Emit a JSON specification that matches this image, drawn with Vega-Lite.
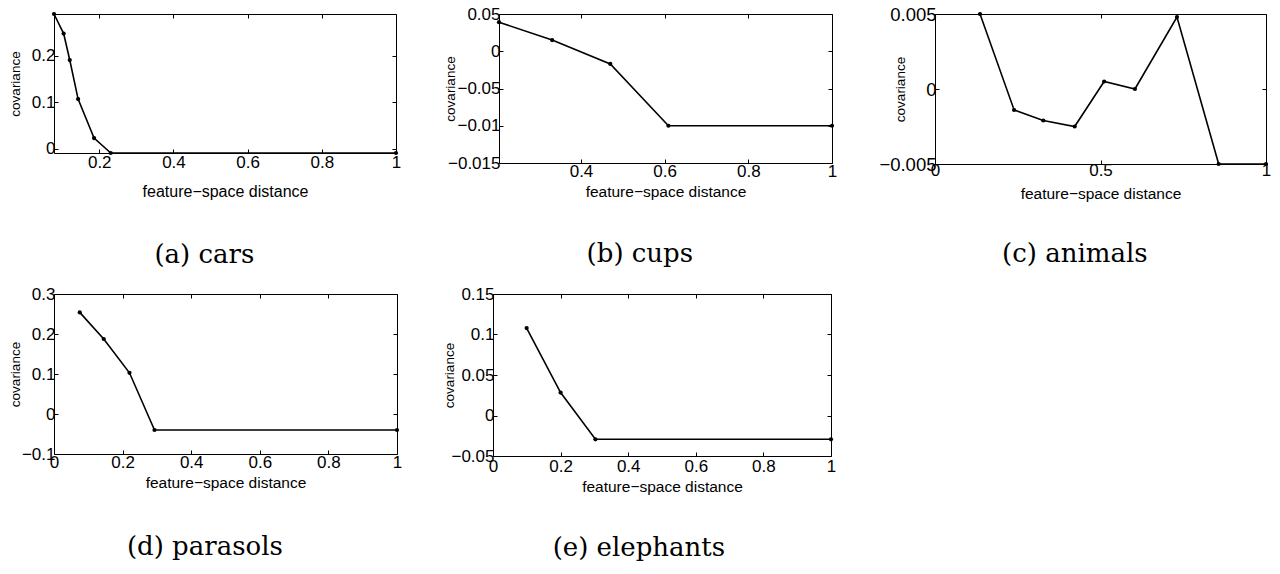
{
  "$schema": "https://vega.github.io/schema/vega-lite/v6.json",
  "background": "white",
  "padding": {"left": 7, "top": 4, "right": 0, "bottom": 0},
  "spacing": 15,
  "vconcat": [
    {
      "spacing": 40,
      "hconcat": [
        {
          "width": 342, "height": 139,
          "data": {"values": [
            {"distance": 0.078, "covariance": 0.29},
            {"distance": 0.104, "covariance": 0.248},
            {"distance": 0.1205, "covariance": 0.191},
            {"distance": 0.143, "covariance": 0.107},
            {"distance": 0.186, "covariance": 0.023},
            {"distance": 0.231, "covariance": -0.009},
            {"distance": 1, "covariance": -0.009}
          ]},
          "title": {"text": "(a) cars", "offset": 43},
          "layer": [
            {"mark": {"type": "line", "color": "black", "strokeWidth": 1.6, "clip": false},
             "encoding": {
               "x": {"field": "distance", "type": "quantitative", "scale": {"domain": [0.078, 1], "nice": false, "zero": false},
                     "axis": {"values": [0.2, 0.4, 0.6, 0.8, 1], "labelPadding": 13, "titleY": 38, "titleFontSize": 16, "title": "feature−space distance"}},
               "y": {"field": "covariance", "type": "quantitative", "scale": {"domain": [-0.009, 0.29], "nice": false, "zero": false},
                     "axis": {"values": [0, 0.1, 0.2], "titleX": -39, "title": "covariance"}}
             }},
            {"mark": {"type": "point", "filled": true, "color": "black", "size": 18, "opacity": 1, "clip": false},
             "encoding": {
               "x": {"field": "distance", "type": "quantitative", "axis": {"orient": "top", "values": [0.2, 0.4, 0.6, 0.8, 1], "labels": false, "title": null}},
               "y": {"field": "covariance", "type": "quantitative", "axis": {"orient": "right", "values": [0, 0.1, 0.2], "labels": false, "title": null}}
             }}
          ],
          "resolve": {"axis": {"x": "independent", "y": "independent"}}
        },
        {
          "width": 333, "height": 149,
          "data": {"values": [
            {"distance": 0.204, "covariance": 0.0039},
            {"distance": 0.331, "covariance": 0.0015},
            {"distance": 0.47, "covariance": -0.0017},
            {"distance": 0.609, "covariance": -0.01},
            {"distance": 1, "covariance": -0.01}
          ]},
          "title": {"text": "(b) cups", "offset": 41},
          "layer": [
            {"mark": {"type": "line", "color": "black", "strokeWidth": 1.6, "clip": false},
             "encoding": {
               "x": {"field": "distance", "type": "quantitative", "scale": {"domain": [0.204, 1], "nice": false, "zero": false},
                     "axis": {"values": [0.4, 0.6, 0.8, 1], "labelPadding": 12, "titleY": 28, "title": "feature−space distance"}},
               "y": {"field": "covariance", "type": "quantitative", "scale": {"domain": [-0.015, 0.005], "nice": false, "zero": false},
                     "axis": {"values": [-0.015, -0.01, -0.005, 0, 0.005], "labelExpr": "datum.value == 0.005 ? '0.05' : datum.value == -0.005 ? '−0.05' : datum.label", "titleX": -49, "title": "covariance"}}
             }},
            {"mark": {"type": "point", "filled": true, "color": "black", "size": 18, "opacity": 1, "clip": false},
             "encoding": {
               "x": {"field": "distance", "type": "quantitative", "axis": {"orient": "top", "values": [0.4, 0.6, 0.8, 1], "labels": false, "title": null}},
               "y": {"field": "covariance", "type": "quantitative", "axis": {"orient": "right", "values": [-0.015, -0.01, -0.005, 0, 0.005], "labels": false, "title": null}}
             }}
          ],
          "resolve": {"axis": {"x": "independent", "y": "independent"}}
        },
        {
          "width": 331, "height": 150,
          "data": {"values": [
            {"distance": 0.136, "covariance": 0.005},
            {"distance": 0.239, "covariance": -0.0014},
            {"distance": 0.327, "covariance": -0.0021},
            {"distance": 0.422, "covariance": -0.0025},
            {"distance": 0.511, "covariance": 0.0005},
            {"distance": 0.604, "covariance": 0},
            {"distance": 0.731, "covariance": 0.0048},
            {"distance": 0.857, "covariance": -0.005},
            {"distance": 1, "covariance": -0.005}
          ]},
          "title": {"text": "(c) animals", "offset": 39},
          "layer": [
            {"mark": {"type": "line", "color": "black", "strokeWidth": 1.6, "clip": false},
             "encoding": {
               "x": {"field": "distance", "type": "quantitative", "scale": {"domain": [0, 1], "nice": false, "zero": false},
                     "axis": {"values": [0, 0.5, 1], "labelPadding": 10, "titleY": 29, "title": "feature−space distance"}},
               "y": {"field": "covariance", "type": "quantitative", "scale": {"domain": [-0.005, 0.005], "nice": false, "zero": false},
                     "axis": {"values": [-0.005, 0, 0.005], "labelFontSize": 18.5, "labelPadding": 3, "titleX": -35, "title": "covariance"}}
             }},
            {"mark": {"type": "point", "filled": true, "color": "black", "size": 18, "opacity": 1, "clip": false},
             "encoding": {
               "x": {"field": "distance", "type": "quantitative", "axis": {"orient": "top", "values": [0, 0.5, 1], "labels": false, "title": null}},
               "y": {"field": "covariance", "type": "quantitative", "axis": {"orient": "right", "values": [-0.005, 0, 0.005], "labels": false, "title": null}}
             }}
          ],
          "resolve": {"axis": {"x": "independent", "y": "independent"}}
        }
      ]
    },
    {
      "spacing": 38,
      "hconcat": [
        {
          "width": 343, "height": 160,
          "data": {"values": [
            {"distance": 0.075, "covariance": 0.254},
            {"distance": 0.145, "covariance": 0.1875},
            {"distance": 0.22, "covariance": 0.103},
            {"distance": 0.293, "covariance": -0.04},
            {"distance": 1, "covariance": -0.04}
          ]},
          "title": {"text": "(d) parasols", "offset": 43},
          "layer": [
            {"mark": {"type": "line", "color": "black", "strokeWidth": 1.6, "clip": false},
             "encoding": {
               "x": {"field": "distance", "type": "quantitative", "scale": {"domain": [0, 1], "nice": false, "zero": false},
                     "axis": {"values": [0, 0.2, 0.4, 0.6, 0.8, 1], "labelPadding": 12, "titleY": 28, "title": "feature−space distance"}},
               "y": {"field": "covariance", "type": "quantitative", "scale": {"domain": [-0.1, 0.3], "nice": false, "zero": false},
                     "axis": {"values": [-0.1, 0, 0.1, 0.2, 0.3], "titleX": -39, "title": "covariance"}}
             }},
            {"mark": {"type": "point", "filled": true, "color": "black", "size": 18, "opacity": 1, "clip": false},
             "encoding": {
               "x": {"field": "distance", "type": "quantitative", "axis": {"orient": "top", "values": [0, 0.2, 0.4, 0.6, 0.8, 1], "labels": false, "title": null}},
               "y": {"field": "covariance", "type": "quantitative", "axis": {"orient": "right", "values": [-0.1, 0, 0.1, 0.2, 0.3], "labels": false, "title": null}}
             }}
          ],
          "resolve": {"axis": {"x": "independent", "y": "independent"}}
        },
        {
          "width": 338, "height": 162,
          "data": {"values": [
            {"distance": 0.0995, "covariance": 0.108},
            {"distance": 0.2, "covariance": 0.0283},
            {"distance": 0.303, "covariance": -0.0294},
            {"distance": 1, "covariance": -0.0294}
          ]},
          "title": {"text": "(e) elephants", "offset": 40},
          "layer": [
            {"mark": {"type": "line", "color": "black", "strokeWidth": 1.6, "clip": false},
             "encoding": {
               "x": {"field": "distance", "type": "quantitative", "scale": {"domain": [0, 1], "nice": false, "zero": false},
                     "axis": {"values": [0, 0.2, 0.4, 0.6, 0.8, 1], "labelPadding": 14, "titleY": 30, "title": "feature−space distance"}},
               "y": {"field": "covariance", "type": "quantitative", "scale": {"domain": [-0.05, 0.15], "nice": false, "zero": false},
                     "axis": {"values": [-0.05, 0, 0.05, 0.1, 0.15], "titleX": -44, "title": "covariance"}}
             }},
            {"mark": {"type": "point", "filled": true, "color": "black", "size": 18, "opacity": 1, "clip": false},
             "encoding": {
               "x": {"field": "distance", "type": "quantitative", "axis": {"orient": "top", "values": [0, 0.2, 0.4, 0.6, 0.8, 1], "labels": false, "title": null}},
               "y": {"field": "covariance", "type": "quantitative", "axis": {"orient": "right", "values": [-0.05, 0, 0.05, 0.1, 0.15], "labels": false, "title": null}}
             }}
          ],
          "resolve": {"axis": {"x": "independent", "y": "independent"}}
        }
      ]
    }
  ],
  "config": {
    "font": "Liberation Sans",
    "view": {"stroke": "black", "strokeWidth": 1},
    "axis": {"domain": false, "grid": false, "ticks": true, "tickSize": -4, "tickColor": "black", "tickWidth": 1,
             "labelColor": "black", "labelFont": "Liberation Sans", "labelFontSize": 17, "labelFlush": false, "labelOverlap": false, "labelPadding": 3,
             "titleColor": "black", "titleFont": "Liberation Sans", "titleFontWeight": "normal", "format": ".3~g"},
    "axisX": {"titleFontSize": 15.5, "titleBaseline": "middle", "labelBaseline": "middle"},
    "axisY": {"titleFontSize": 13.5, "titleBaseline": "middle", "titleAngle": 270},
    "title": {"font": "DejaVu Serif", "fontSize": 26, "fontWeight": "normal", "color": "black", "orient": "bottom", "anchor": "middle", "frame": "bounds", "baseline": "top"}
  }
}
